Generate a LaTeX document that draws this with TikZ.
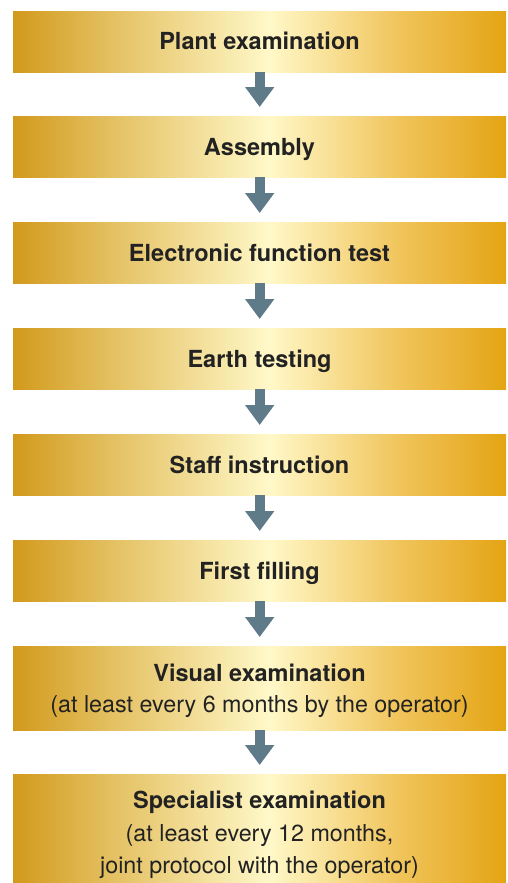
\documentclass[tikz,border=0pt]{standalone}
\usepackage{fontspec}
\setmainfont{TeX Gyre Heros}
\usetikzlibrary{arrows.meta}
\definecolor{gA}{HTML}{D29A1C}
\definecolor{gB}{HTML}{E2BC5A}
\definecolor{gC}{HTML}{FFF8C8}
\definecolor{gD}{HTML}{F0C45A}
\definecolor{gE}{HTML}{E4A414}
\definecolor{arrowcol}{HTML}{5F7B8A}
\definecolor{txt}{HTML}{222222}
\pgfdeclarehorizontalshading{gold}{100bp}{color(0bp)=(gA); color(25bp)=(gA); color(33.8bp)=(gB); color(51bp)=(gC); color(64.25bp)=(gD); color(75bp)=(gE); color(100bp)=(gE)}
\begin{document}
\begin{tikzpicture}[x=1pt,y=-1pt,
  box/.style={rectangle, shading=gold, inner sep=0pt, minimum width=493pt, anchor=north west, text=txt, align=center},
  bt/.style={font=\fontsize{23.5}{31}\selectfont\bfseries},
  rt/.style={font=\fontsize{23.3}{31}\selectfont},
  flow/.style={draw=arrowcol, line width=10pt, -{Triangle[width=28pt,length=20pt]}, shorten >=9pt}]
\useasboundingbox (0,0) rectangle (507,883);
\node[box, minimum height=61pt] (b1) at (13,11) {};
\node[box, minimum height=61pt] (b2) at (13,116) {};
\node[box, minimum height=61pt] (b3) at (13,222) {};
\node[box, minimum height=61pt] (b4) at (13,328) {};
\node[box, minimum height=61pt] (b5) at (13,434) {};
\node[box, minimum height=61pt] (b6) at (13,540) {};
\node[box, minimum height=84pt] (b7) at (13,646) {};
\node[box, minimum height=109pt] (b8) at (13,774) {};
\node[bt, text=txt, anchor=base] (t1) at (259.5,49.5) {Plant examination};
\node[bt, text=txt, anchor=base] (t2) at (259.5,155.5) {Assembly};
\node[bt, text=txt, anchor=base] (t3) at (259.5,261.5) {Electronic function test};
\node[bt, text=txt, anchor=base] (t4) at (259.5,367.5) {Earth testing};
\node[bt, text=txt, anchor=base] (t5) at (259.5,473.5) {Staff instruction};
\node[bt, text=txt, anchor=base] (t6) at (259.5,579.5) {First filling};
\node[bt, text=txt, anchor=base] (t7) at (259.5,681) {Visual examination};
\node[rt, text=txt, anchor=base] (t7b) at (259.5,712) {(at least every 6 months by the operator)};
\node[bt, text=txt, anchor=base] (t8) at (259.5,808) {Specialist examination};
\node[rt, text=txt, anchor=base] (t8b) at (259.5,841) {(at least every 12 months,};
\node[rt, text=txt, anchor=base] (t8c) at (259.5,873) {joint protocol with the operator)};
\draw[flow] (b1.south) -- (b2.north);
\draw[flow] (b2.south) -- (b3.north);
\draw[flow] (b3.south) -- (b4.north);
\draw[flow] (b4.south) -- (b5.north);
\draw[flow] (b5.south) -- (b6.north);
\draw[flow] (b6.south) -- (b7.north);
\draw[flow] (b7.south) -- (b8.north);
\end{tikzpicture}
\end{document}
